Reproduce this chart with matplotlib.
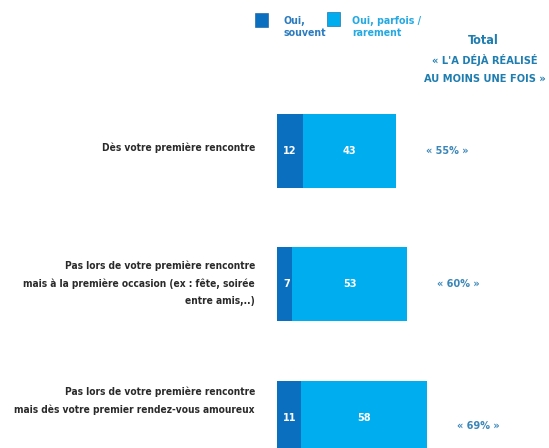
import matplotlib
matplotlib.use("Agg")
import matplotlib.pyplot as plt
from matplotlib.patches import Rectangle

categories = [
    "Dès votre première rencontre",
    "Pas lors de votre première rencontre\nmais à la première occasion (ex : fête, soirée\nentre amis,..)",
    "Pas lors de votre première rencontre\nmais dès votre premier rendez-vous amoureux",
]
souvent = [12, 7, 11]
parfois = [43, 53, 58]
totals = [55, 60, 69]
legend_labels = ["Oui,\nsouvent", "Oui, parfois /\nrarement"]
header_title = "Total"
header_sub = ["« L'A DÉJÀ RÉALISÉ", "AU MOINS UNE FOIS »"]

DARK = "#0b6fc0"
LIGHT = "#00adef"
plt.rcParams["font.family"] = ["DejaVu Sans"]
plt.rcParams["font.stretch"] = "condensed"

W, H = 549, 448
fig = plt.figure(figsize=(W / 100, H / 100), dpi=100)
ax = fig.add_axes([0, 0, 1, 1])
ax.set_xlim(-277 / 2.17, (W - 277) / 2.17)
ax.set_ylim(2.225, -1.131)
ax.axis("off")

ypos = list(range(len(categories)))
ax.barh(ypos, souvent, height=0.554, color=DARK, edgecolor="none")
ax.barh(ypos, parfois, left=souvent, height=0.554, color=LIGHT, edgecolor="none")

P = 0.72  # px -> pt
label_dy = [3, 1, 17]      # pixel offsets (upwards) of category labels
total_dy = [0, 0, -8]
for i, cat in enumerate(categories):
    ax.annotate(cat, (0, i), xytext=(-22 * P, label_dy[i] * P), textcoords="offset points",
                ha="right", va="center", fontsize=7.3, fontweight="bold",
                color="#2a2a2a", linespacing=1.85, stretch="condensed")
    ax.annotate(str(souvent[i]), (0, i), xytext=(6 * P, 0), textcoords="offset points",
                ha="left", va="center", fontsize=7.8, fontweight="bold", color="white")
    ax.text(souvent[i] + parfois[i] / 2, i, str(parfois[i]), ha="center", va="center",
            fontsize=7.8, fontweight="bold", color="white")
    ax.annotate(f"« {totals[i]}% »", (souvent[i] + parfois[i], i),
                xytext=(30 * P, total_dy[i] * P), textcoords="offset points",
                ha="left", va="center", fontsize=7.8, fontweight="bold", color="#3a86b8")

def fx(px):
    return px / W

def fy(py):
    return 1 - py / H

sq = [(255, 13, DARK), (327, 12, LIGHT)]
for (x0, y0, c) in sq:
    fig.patches.append(Rectangle((fx(x0), fy(y0 + 14)), 13 / W, 14 / H,
                                 transform=fig.transFigure, facecolor=c,
                                 edgecolor="#0a5a9a", linewidth=0.4))
fig.text(fx(283), fy(16), legend_labels[0], ha="left", va="top", fontsize=7.6,
         fontweight="bold", color="#2b7bbf", linespacing=1.25)
fig.text(fx(352), fy(16), legend_labels[1], ha="left", va="top", fontsize=7.6,
         fontweight="bold", color="#25a9e2", linespacing=1.25)
fig.text(fx(483), fy(41), header_title, ha="center", va="center", fontsize=9,
         fontweight="bold", color="#1f7db0")
for k, line in enumerate(header_sub):
    fig.text(fx(485), fy(60 + 18.5 * k), line, ha="center", va="center", fontsize=7.9,
             fontweight="bold", color="#1f7db0")

fig.savefig("out.png", dpi=100, facecolor="white")
